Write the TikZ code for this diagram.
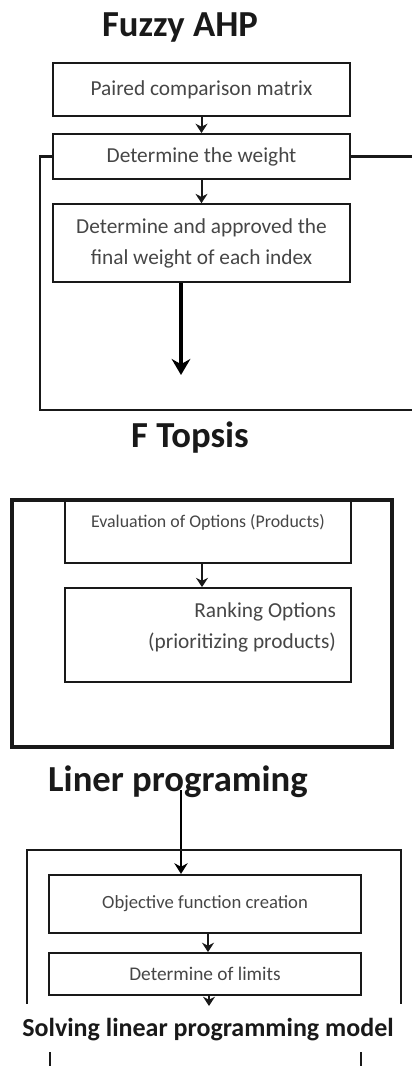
\documentclass[tikz,border=0pt]{standalone}
\usepackage{fontspec}
\setmainfont{Carlito}
\usetikzlibrary{arrows.meta, positioning, calc}
\definecolor{mydark}{RGB}{25,25,25}
\definecolor{mytext}{RGB}{70,70,70}
\tikzset{
  box/.style={rectangle, draw=mydark, line width=1.6pt, inner sep=0pt,
    minimum width=222.75pt, font=\fontsize{16}{23}\selectfont,
    text=mytext, align=center},
  heading/.style={font=\fontsize{27.5}{30}\selectfont\bfseries,
    text=mydark, inner sep=0pt},
  subheading/.style={font=\fontsize{19.5}{22}\selectfont\bfseries,
    text=mydark, inner sep=0pt},
  boxlabel/.style={font=\fontsize{13.4}{16}\selectfont, text=mytext,
    inner sep=0pt},
  arrow/.style={-{Stealth[length=7pt,width=9pt]}, line width=1.5pt, color=mydark},
  bigarrow/.style={-{Stealth[length=12pt,width=14pt]}, line width=3pt, color=black},
  midarrow/.style={-{Stealth[length=8pt,width=10pt]}, line width=2pt, color=black},
  frame/.style={line width=2pt, color=mydark, line cap=rect},
  thickframe/.style={rectangle, draw=mydark, line width=2.3pt, inner sep=0pt},
  tick/.style={line width=1.2pt, color=mydark}
}

\begin{document}
\begin{tikzpicture}[x=0.75pt, y=-0.75pt]
  \useasboundingbox (0,0) rectangle (411,1066);
  % Fuzzy AHP
  \node[heading] (ahp) at (180,27) {Fuzzy AHP};
  \node[box, minimum height=39.75pt] (pair) at (201.5,89.5) {Paired comparison matrix};
  \node[box, minimum height=33.75pt, below=12pt of pair] (weight) {Determine the weight};
  \node[box, minimum height=58.5pt, below=17.25pt of weight] (final)
    {Determine and approved the\\final weight of each index};
  \draw[arrow] (pair) -- (weight);
  \draw[arrow] (weight) -- (final);
  \coordinate (rimR) at (411,0);
  \coordinate (fuzzyL) at (40,410);
  \coordinate (fuzzyout) at (181,375);
  \draw[frame] (weight.west) -| (fuzzyL) -- (fuzzyL -| rimR);
  \draw[frame] (weight.east) -- (weight.east -| rimR);
  \draw[bigarrow] (final.south -| fuzzyout) -- (fuzzyout);

  % F Topsis
  \node[heading] (topsis) at (190,438) {F Topsis};
  \node[thickframe, minimum width=285pt, minimum height=185.25pt] (topsisbox) at (202,623.5) {};
  \node[box, anchor=north, minimum width=214.5pt, minimum height=46.5pt,
    label={[boxlabel, anchor=center, yshift=-16.5pt]north:Evaluation of Options (Products)}]
    (eval) at (208,500) {};
  \node[box, minimum width=214.5pt, minimum height=70.5pt, below=17.25pt of eval,
    label={[box, draw=none, minimum width=0pt, align=right, anchor=east,
      xshift=-11.25pt, yshift=5.6pt]east:Ranking Options\\(prioritizing products)}]
    (rank) {};
  \draw[arrow] ([xshift=-4.5pt]eval.south) -- ([xshift=-4.5pt]rank.north);

  % Liner programing
  \node[heading] (lp) at (178,782) {Liner programing};
  \node[box, minimum width=234pt, minimum height=43.5pt,
    font=\fontsize{14}{18}\selectfont] (obj) at (205,904) {Objective function creation};
  \node[box, minimum width=234pt, minimum height=31.5pt, below=13.5pt of obj,
    font=\fontsize{14.5}{18}\selectfont] (limits) {Determine of limits};
  \node[subheading] (solve) at (208,1030) {Solving linear programming model};
  \coordinate (lpin) at (181,790);
  \draw[midarrow] (lpin) -- (lpin |- obj.north);
  \draw[arrow] ([xshift=2.25pt]obj.south) -- ([xshift=2.25pt]limits.north);
  \coordinate (solvein) at (209,1006);
  \draw[arrow] (limits.south -| solvein) -- (solvein);
  \coordinate (lpTL) at (27,850);
  \coordinate (lpBR) at (401,1003);
  \draw[frame] (lpTL |- lpBR) -- (lpTL) -- (lpTL -| lpBR) -- (lpBR);
  \coordinate (stubL) at (50,1052);
  \coordinate (stubR) at (361,1052);
  \draw[tick] (stubL) -- ++(0,14);
  \draw[tick] (stubR) -- ++(0,14);
\end{tikzpicture}
\end{document}
